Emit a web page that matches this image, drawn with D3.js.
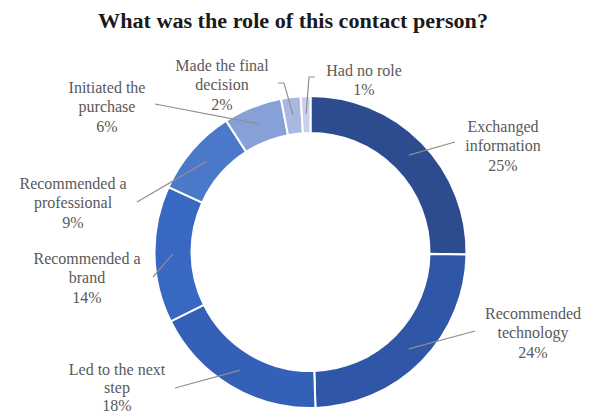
<!DOCTYPE html>
<html>
<head>
<meta charset="utf-8">
<script src="https://cdn.jsdelivr.net/npm/d3@7/dist/d3.min.js"></script>
<style>
  html, body { margin: 0; padding: 0; background: #fff; }
  svg { display: block; }
</style>
</head>
<body>
<svg id="chart" width="595" height="414"></svg>
<script>
// Survey answers: role of the contact person (share of respondents, %)
const categories = [
  "Exchanged information",
  "Recommended technology",
  "Led to the next step",
  "Recommended a brand",
  "Recommended a professional",
  "Initiated the purchase",
  "Made the final decision",
  "Had no role"
];
const values = [25, 24, 18, 14, 9, 6, 2, 1];
// Label text split into lines
const labelLines = [
  ["Exchanged", "information"],
  ["Recommended", "technology"],
  ["Led to the next", "step"],
  ["Recommended a", "brand"],
  ["Recommended a", "professional"],
  ["Initiated the", "purchase"],
  ["Made the final", "decision"],
  ["Had no role"]
];
const sliceColors = ["#2d4b8f", "#2f56a7", "#3461b7", "#3868c1", "#4c78c9", "#87a0d8", "#a8b8e1", "#c7d1eb"];

// Label block placement: centre x, first-line y, line gap, and where each leader line leaves the text
const labelLayout = [
  { x: 503, y: 126, gap: 19.5, leader: [[455, 142]] },
  { x: 533, y: 313, gap: 19.5, leader: [[475, 331]] },
  { x: 117, y: 369, gap: 18,   leader: [[175, 388]] },
  { x: 87,  y: 258, gap: 19.5, leader: [[153, 277]] },
  { x: 73,  y: 183, gap: 19.5, leader: [[137, 202]] },
  { x: 107, y: 87,  gap: 19.5, leader: [[155, 104]] },
  { x: 222, y: 65,  gap: 19.5, leader: [[278, 83], [284, 83]] },
  { x: 364, y: 70,  gap: 19.5, leader: [[315, 77], [309, 77]] }
];

const data = categories.map((c, i) => ({ name: c, value: values[i], lines: labelLines[i], color: sliceColors[i], layout: labelLayout[i] }));

const svg = d3.select("#chart");
const cx = 310.5, cy = 252;
const outerR = 156, innerR = 119;

svg.append("text")
  .attr("x", 293)
  .attr("y", 28)
  .attr("text-anchor", "middle")
  .attr("font-family", "'Liberation Serif', 'Times New Roman', serif")
  .attr("font-weight", "bold")
  .attr("font-size", 20)
  .attr("textLength", 390)
  .attr("lengthAdjust", "spacingAndGlyphs")
  .attr("fill", "#1a1a1a")
  .text("What was the role of this contact person?");

const pie = d3.pie().value(d => d.value).sort(null);
const arc = d3.arc().innerRadius(innerR).outerRadius(outerR);
const midArc = d3.arc().innerRadius(138).outerRadius(138);

const arcs = pie(data);
const g = svg.append("g").attr("transform", `translate(${cx},${cy})`);

g.selectAll("path.slice")
  .data(arcs)
  .join("path")
  .attr("class", "slice")
  .attr("d", arc)
  .attr("fill", d => d.data.color)
  .attr("stroke", "#ffffff")
  .attr("stroke-width", 2);

// Leader lines from each label to the middle of its ring segment
const line = d3.line();
svg.append("g")
  .selectAll("path.leader")
  .data(arcs)
  .join("path")
  .attr("class", "leader")
  .attr("d", d => {
    const c = midArc.centroid(d);
    const pts = d.data.layout.leader.concat([[c[0] + cx, c[1] + cy]]);
    return line(pts);
  })
  .attr("fill", "none")
  .attr("stroke", "#8f8f8f")
  .attr("stroke-width", 1.2);

// Category labels with percentage beneath
const labels = svg.append("g")
  .attr("font-family", "'Liberation Serif', 'Times New Roman', serif")
  .attr("font-size", 16)
  .attr("fill", "#595959")
  .attr("text-anchor", "middle");

arcs.forEach(d => {
  const L = d.data.layout;
  const t = labels.append("text").attr("x", L.x).attr("y", L.y);
  d.data.lines.concat([d.data.value + "%"]).forEach((s, i) => {
    t.append("tspan")
      .attr("x", L.x)
      .attr("dy", i === 0 ? "0.35em" : L.gap)
      .text(s);
  });
});
</script>
</body>
</html>
